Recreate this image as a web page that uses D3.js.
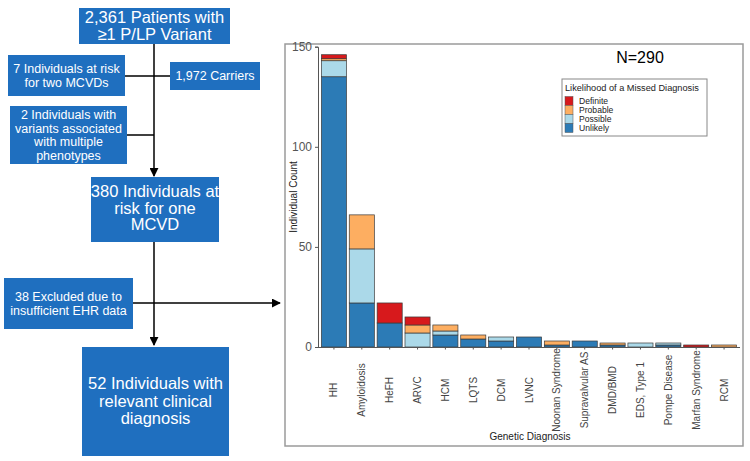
<!DOCTYPE html>
<html>
<head>
<meta charset="utf-8">
<script src="https://cdn.jsdelivr.net/npm/d3@7/dist/d3.min.js"></script>
<style>
  html, body { margin: 0; padding: 0; background: #fff; }
  svg { display: block; font-family: "Liberation Sans", Arial, sans-serif; }
</style>
</head>
<body>
<svg id="chart" width="750" height="461"></svg>
<script>
// ---- Data ----
const categories = ["HH", "Amyloidosis", "HeFH", "ARVC", "HCM", "LQTS", "DCM", "LVNC",
  "Noonan Syndrome", "Supravalvular AS", "DMD/BMD", "EDS, Type 1", "Pompe Disease", "Marfan Syndrome", "RCM"];
const seriesNames = ["Unlikely", "Possible", "Probable", "Definite"];
const unlikely = [135, 22, 12, 0, 6, 4, 3, 5, 1, 3, 1, 0, 1, 0, 0];
const possible = [8, 27, 0, 7, 2, 0, 2, 0, 0, 0, 0, 2, 1, 0, 0];
const probable = [1, 17, 0, 4, 3, 2, 0, 0, 2, 0, 1, 0, 0, 0, 1];
const definite = [2, 0, 10, 4, 0, 0, 0, 0, 0, 0, 0, 0, 0, 1, 0];
const seriesColors = ["#2c7bb6", "#abd9e9", "#fdae61", "#d7191c"];
const legendOrder = ["Definite", "Probable", "Possible", "Unlikely"];
const yTicks = [0, 50, 100, 150];
const totalLabel = "N=290";

// Flowchart texts
const flowTop = ["2,361 Patients with", "\u22651 P/LP Variant"];
const flowSide1 = ["7 Individuals at risk", "for two MCVDs"];
const flowCarriers = ["1,972 Carriers"];
const flowSide2 = ["2 Individuals with", "variants associated", "with multiple", "phenotypes"];
const flowMid = ["380 Individuals at", "risk for one", "MCVD"];
const flowExcl = ["38 Excluded due to", "insufficient EHR data"];
const flowBottom = ["52 Individuals with", "relevant clinical", "diagnosis"];

const svg = d3.select("#chart");
const BLUE = "#1f6fbf";

// ---- Flowchart ----
svg.append("defs").append("marker")
  .attr("id", "arrow").attr("viewBox", "0 0 10 10").attr("refX", 9).attr("refY", 5)
  .attr("markerWidth", 6).attr("markerHeight", 6).attr("orient", "auto-start-reverse")
  .append("path").attr("d", "M0,0 L10,5 L0,10 z").attr("fill", "#000");

const flow = svg.append("g");
flow.append("line").attr("x1", 154).attr("y1", 44).attr("x2", 154).attr("y2", 176)
  .attr("stroke", "#000").attr("stroke-width", 1.5).attr("marker-end", "url(#arrow)");
flow.append("line").attr("x1", 125).attr("y1", 76).attr("x2", 170).attr("y2", 76)
  .attr("stroke", "#000").attr("stroke-width", 1.5);
flow.append("line").attr("x1", 127).attr("y1", 135).attr("x2", 154).attr("y2", 135)
  .attr("stroke", "#000").attr("stroke-width", 1.5);
flow.append("line").attr("x1", 154).attr("y1", 242).attr("x2", 154).attr("y2", 345)
  .attr("stroke", "#000").attr("stroke-width", 1.5).attr("marker-end", "url(#arrow)");
flow.append("line").attr("x1", 133).attr("y1", 303).attr("x2", 280).attr("y2", 303)
  .attr("stroke", "#000").attr("stroke-width", 1.5).attr("marker-end", "url(#arrow)");

function box(x, y, w, h, lines, fs, lh, cy) {
  const g = flow.append("g");
  g.append("rect").attr("x", x).attr("y", y).attr("width", w).attr("height", h).attr("fill", BLUE);
  const cx = x + w / 2;
  const c = cy !== undefined ? cy : y + h / 2;
  const start = c - (lines.length - 1) * lh / 2;
  lines.forEach((t, i) => {
    g.append("text").attr("x", cx).attr("y", start + i * lh)
      .attr("dy", "0.35em").attr("text-anchor", "middle")
      .attr("fill", "#fff").attr("font-size", fs).text(t);
  });
}
box(79, 8, 151, 36, flowTop, 16.5, 17);
box(8, 55, 117, 41, flowSide1, 12.5, 13.5);
box(170, 62, 90, 28, flowCarriers, 12.5, 13.5);
box(10, 106, 117, 58, flowSide2, 12.5, 13.5);
box(91, 177, 128, 65, flowMid, 16.5, 16.5, 208);
box(4, 278, 129, 51, flowExcl, 12.5, 13.5);
box(82, 347, 147, 109, flowBottom, 16.5, 17.5, 401);

// ---- Chart ----
svg.append("rect").attr("x", 285).attr("y", 44).attr("width", 458).attr("height", 402)
  .attr("fill", "#fff").attr("stroke", "#9a9a9a").attr("stroke-width", 1.5);

const x = d3.scaleBand().domain(categories).range([320, 738]).paddingInner(0.1).paddingOuter(0.05);
const y = d3.scaleLinear().domain([0, 150]).range([347, 46.7]);

const rows = categories.map((c, i) => ({
  cat: c, Unlikely: unlikely[i], Possible: possible[i], Probable: probable[i], Definite: definite[i]
}));
const stacked = d3.stack().keys(seriesNames)(rows);
const color = d3.scaleOrdinal().domain(seriesNames).range(seriesColors);

const bars = svg.append("g");
stacked.forEach(layer => {
  bars.append("g").attr("fill", color(layer.key))
    .selectAll("rect").data(layer.filter(d => d[1] - d[0] > 0)).join("rect")
    .attr("x", d => x(d.data.cat))
    .attr("y", d => y(d[1]))
    .attr("width", x.bandwidth())
    .attr("height", d => y(d[0]) - y(d[1]))
    .attr("stroke", "#3a3a3a").attr("stroke-width", 0.7);
});

const yAxis = svg.append("g").attr("transform", "translate(318,0)")
  .call(d3.axisLeft(y).tickValues(yTicks).tickSize(3).tickPadding(3));
yAxis.select(".domain").attr("stroke", "#555").attr("stroke-width", 1);
yAxis.selectAll(".tick line").attr("stroke", "#555");
yAxis.selectAll("text").attr("font-size", 12).attr("fill", "#555")
  .attr("font-family", "Liberation Sans, Arial, sans-serif");

const xAxis = svg.append("g").attr("transform", "translate(0,347.5)")
  .call(d3.axisBottom(x).tickSize(2).tickSizeOuter(0).tickFormat(""));
xAxis.select(".domain").attr("stroke", "#555").attr("d", "M318,0H740");
xAxis.selectAll(".tick line").attr("stroke", "#555");

svg.append("g").selectAll("text").data(categories).join("text")
  .attr("transform", d => `translate(${x(d) + x.bandwidth() / 2},390) rotate(-90)`)
  .attr("text-anchor", "middle").attr("dy", "0.35em")
  .attr("font-size", 10).attr("fill", "#444").text(d => d);

svg.append("text").attr("x", 530).attr("y", 440).attr("text-anchor", "middle")
  .attr("font-size", 10).attr("fill", "#222").text("Genetic Diagnosis");
svg.append("text").attr("transform", "translate(293,197) rotate(-90)")
  .attr("text-anchor", "middle").attr("dy", "0.35em")
  .attr("font-size", 10).attr("fill", "#222").text("Individual Count");

svg.append("text").attr("x", 640).attr("y", 63).attr("text-anchor", "middle")
  .attr("font-size", 16).attr("fill", "#000").text(totalLabel);

const lg = svg.append("g");
lg.append("rect").attr("x", 562).attr("y", 79).attr("width", 145).attr("height", 57)
  .attr("fill", "#fff").attr("stroke", "#888").attr("stroke-width", 1);
lg.append("text").attr("x", 565).attr("y", 90.5).attr("font-size", 9.2).attr("fill", "#222")
  .text("Likelihood of a Missed Diagnosis");
legendOrder.forEach((k, i) => {
  lg.append("rect").attr("x", 565).attr("y", 96.5 + i * 9).attr("width", 8).attr("height", 9)
    .attr("fill", color(k)).attr("stroke", "#555").attr("stroke-width", 0.5);
  lg.append("text").attr("x", 579).attr("y", 101 + i * 9).attr("dy", "0.35em")
    .attr("font-size", 8.6).attr("fill", "#222").text(k);
});
</script>
</body>
</html>
